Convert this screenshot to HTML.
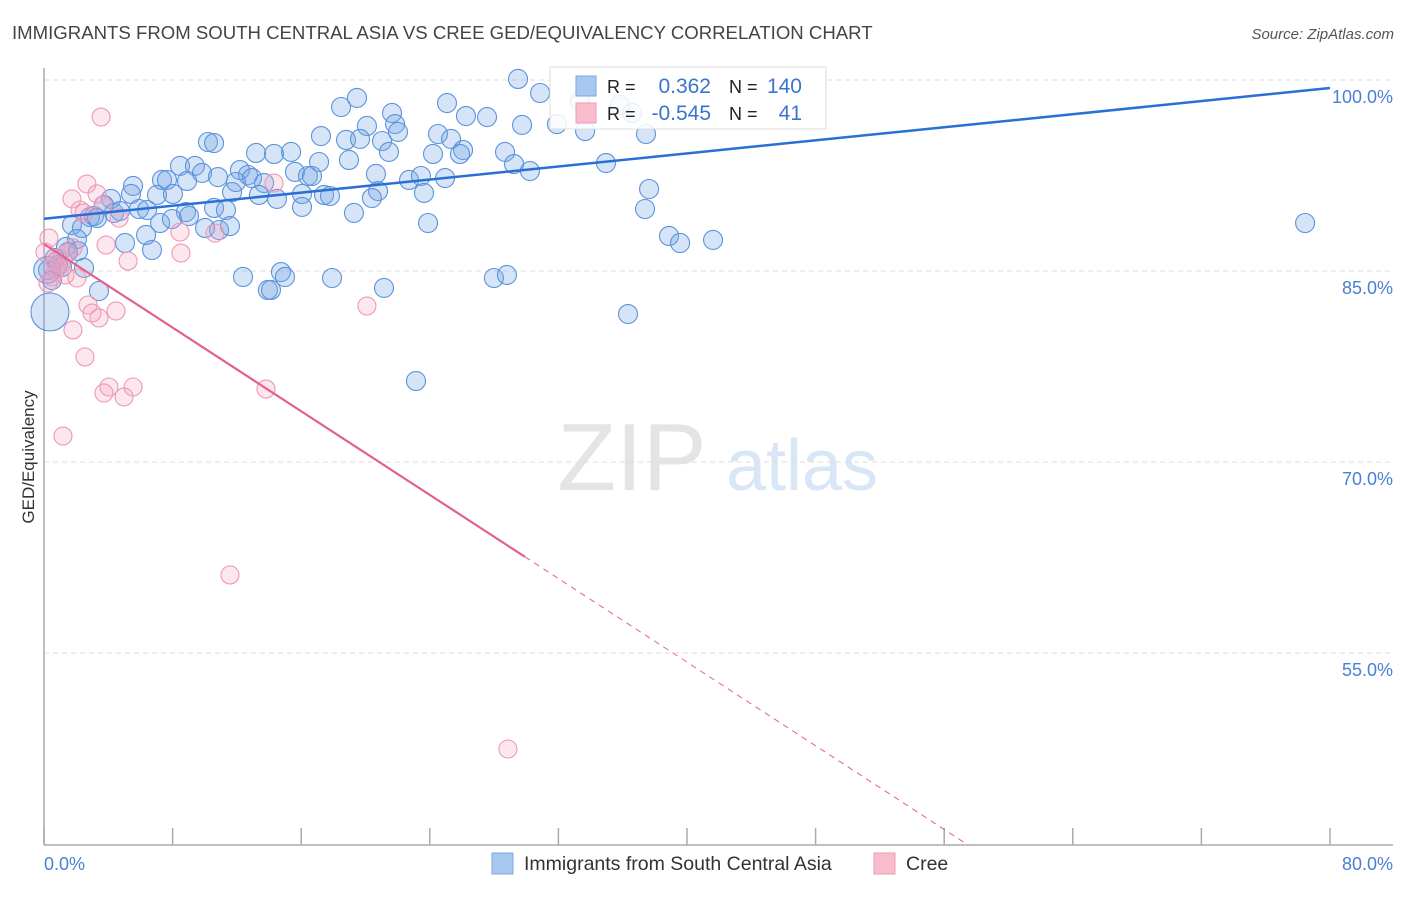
<!DOCTYPE html>
<html><head><meta charset="utf-8"><style>
body{margin:0;background:#fff;font-family:"Liberation Sans",sans-serif;}
svg text{font-family:"Liberation Sans",sans-serif;}
</style></head><body>
<svg id="chart" width="1406" height="892" xmlns="http://www.w3.org/2000/svg">
<text x="12" y="39" font-size="18.6" fill="#444">IMMIGRANTS FROM SOUTH CENTRAL ASIA VS CREE GED/EQUIVALENCY CORRELATION CHART</text>
<text x="1394" y="39" font-size="15" fill="#555" font-style="italic" text-anchor="end">Source: ZipAtlas.com</text>
<g>
<text x="632" y="490" font-size="96" fill="#e4e4e4" font-family="Liberation Serif" text-anchor="middle">ZIP</text>
<text x="802" y="490" font-size="72" fill="#d8e6f6" text-anchor="middle">atlas</text>
</g>
<g id="grid"></g>
<g id="axes"></g>
<g id="pts"></g>
<g id="lines"></g>
<text transform="translate(34,457) rotate(-90)" font-size="17" fill="#333" text-anchor="middle">GED/Equivalency</text>
<text x="44" y="870" font-size="18" fill="#4a7fd4">0.0%</text>
<text x="1393" y="870" font-size="18" fill="#4a7fd4" text-anchor="end">80.0%</text>
<g>
<rect x="550" y="67" width="276" height="62" fill="#fff" fill-opacity="0.85" stroke="#ddd"/>
<rect x="576" y="76" width="20" height="20" fill="#a9c8f0" stroke="#7aa7e0"/>
<rect x="576" y="103" width="20" height="20" fill="#f8bccd" stroke="#ee9ab3"/>
<text x="607" y="93" font-size="18" fill="#222">R = </text>
<text x="711" y="93" font-size="21" fill="#3b74d0" text-anchor="end">0.362</text>
<text x="729" y="93" font-size="18" fill="#222">N = </text>
<text x="802" y="93" font-size="21" fill="#3b74d0" text-anchor="end">140</text>
<text x="607" y="120" font-size="18" fill="#222">R = </text>
<text x="711" y="120" font-size="21" fill="#3b74d0" text-anchor="end">-0.545</text>
<text x="729" y="120" font-size="18" fill="#222">N = </text>
<text x="802" y="120" font-size="21" fill="#3b74d0" text-anchor="end">41</text>
</g>
<g>
<rect x="492" y="853" width="21" height="21" fill="#a9c8f0" stroke="#7aa7e0"/>
<text x="524" y="870" font-size="19.5" fill="#333">Immigrants from South Central Asia</text>
<rect x="874" y="853" width="21" height="21" fill="#f8bccd" stroke="#ee9ab3"/>
<text x="906" y="870" font-size="19.5" fill="#333">Cree</text>
</g>
</svg>
<script>
const yTicks=[100,85,70,55];
const yTickLabels=["100.0%","85.0%","70.0%","55.0%"];
const xTicks=[0,8,16,24,32,40,48,56,64,72,80];
const blueX=[29.49,30.86,19.47,18.48,25.07,21.65,27.56,26.25,29.74,31.91,33.34,35.83,36.58,33.66,37.45,21.84,20.09,22.02,17.23,18.79,19.66,21.03,24.51,25.32,10.20,10.58,13.19,14.31,15.37,21.46,26.07,24.20,25.88,28.68,29.24,30.23,34.96,17.11,18.97,8.46,9.39,7.34,7.65,8.90,9.83,10.82,12.19,12.69,12.94,13.69,15.61,16.42,16.67,20.65,22.71,23.45,24.95,5.54,5.41,7.03,8.02,11.70,11.94,13.37,14.49,16.05,17.42,17.79,20.78,20.40,23.64,37.64,4.17,3.73,4.35,4.73,5.91,6.41,8.83,9.02,10.58,11.32,16.05,19.28,2.86,3.11,3.30,1.74,2.36,7.22,7.96,10.02,10.89,11.57,23.89,37.39,2.05,1.37,1.49,2.12,5.04,6.35,6.72,38.88,39.57,41.62,78.45,0.68,0.87,1.12,0.25,0.50,2.49,12.38,14.74,14.99,17.92,27.99,28.80,13.93,14.12,21.15,3.42,36.33,23.14,0.37,0.19];
const blueY=[100.08,98.98,98.59,97.88,98.19,97.41,97.09,97.17,96.47,96.54,98.35,98.04,97.41,95.99,95.76,96.54,96.39,95.92,95.60,95.29,95.37,95.21,95.76,95.37,95.13,95.05,94.27,94.19,94.35,94.35,94.50,94.19,94.19,94.35,93.40,92.85,93.48,93.56,93.72,93.25,93.25,92.15,92.15,92.07,92.70,92.38,92.93,92.54,92.30,91.91,92.78,92.46,92.46,92.62,92.15,92.46,92.30,91.68,91.05,90.97,91.05,91.20,91.99,90.97,90.66,91.05,90.97,90.89,91.28,90.73,91.13,91.44,90.66,90.18,89.56,89.71,89.87,89.79,89.63,89.32,89.95,89.79,90.03,89.56,89.24,89.32,89.16,88.61,88.38,88.77,89.08,88.38,88.22,88.53,88.77,89.87,87.51,86.89,86.49,86.57,87.20,87.83,86.65,87.75,87.20,87.44,88.77,86.02,85.47,85.31,85.08,84.29,85.24,84.53,84.92,84.53,84.45,84.45,84.69,83.51,83.51,83.67,83.43,81.62,76.36,81.78,85.08];
const blueSize=blueX.map((v,i)=>i===blueX.length-2?2.0:(i===blueX.length-1?1.4:1));
const pinkX=[3.55,1.74,2.67,3.30,2.24,2.49,3.67,4.67,0.31,0.06,0.93,1.43,1.80,0.75,0.50,1.31,2.05,8.46,8.52,10.64,5.23,3.86,14.31,2.74,2.99,3.42,4.48,1.80,2.55,4.04,3.73,5.54,4.98,1.18,13.81,11.57,20.09,28.86,0.68,1.06,0.25];
const pinkY=[97.09,90.66,91.83,91.05,89.79,89.56,90.18,89.16,87.59,86.49,86.02,86.41,86.81,85.08,84.53,84.69,84.45,88.06,86.41,87.98,85.79,87.04,91.91,82.33,81.70,81.31,81.86,80.37,78.25,75.89,75.42,75.89,75.11,72.04,75.73,61.13,82.25,47.46,85.71,85.47,84.06];
const blueTrend=[89.1,99.37];
const pinkTrend=[87.12,-0.821];
const pinkSolidEnd=29.92;

const X0=44,X1=1330,Y100=80,Y85=271;
const xs=v=>X0+(v/80)*(X1-X0);
const ys=v=>Y100+(100-v)*(Y85-Y100)/15;
const yMin=100-(845-Y100)*15/(Y85-Y100);
const NS="http://www.w3.org/2000/svg";
function mk(t,a,p){const e=document.createElementNS(NS,t);for(const k in a)e.setAttribute(k,a[k]);p.appendChild(e);return e;}
const grid=document.getElementById('grid'),axes=document.getElementById('axes'),pts=document.getElementById('pts'),lines=document.getElementById('lines');
yTicks.forEach((t,i)=>{
 const l=mk('line',{x1:X0,x2:1393,y1:ys(t),y2:ys(t),stroke:'#ddd','stroke-dasharray':'5,4'},grid);
 
 
 const tx=mk('text',{x:1393,y:ys(t)+23,'font-size':18,fill:'#4a7fd4','text-anchor':'end'},grid);
 tx.textContent=yTickLabels[i];
 
 
});
const ya=mk('line',{x1:X0,x2:X0,y1:68,y2:845,stroke:'#aaa','stroke-width':1.5},axes);


const xa=mk('line',{x1:X0,x2:1393,y1:845,y2:845,stroke:'#aaa','stroke-width':1.5},axes);


xTicks.forEach(t=>{
 const l=mk('line',{x1:xs(t),x2:xs(t),y1:828,y2:845,stroke:'#aaa','stroke-width':1.5},axes);
 
 
});
blueX.forEach((x,i)=>{
 const c=mk('circle',{cx:xs(x),cy:ys(blueY[i]),r:9.5*blueSize[i],fill:'rgba(120,165,230,0.3)',stroke:'#5b93dc','stroke-width':1.1},pts);
 
 
});
pinkX.forEach((x,i)=>{
 const c=mk('circle',{cx:xs(x),cy:ys(pinkY[i]),r:9,fill:'rgba(245,160,190,0.25)',stroke:'#ee98b5','stroke-width':1.1},pts);
 
 
});
const bl=mk('line',{x1:xs(0),y1:ys(blueTrend[0]),x2:xs(80),y2:ys(blueTrend[1]),stroke:'#2a6fd6','stroke-width':2.5},lines);


const py=x=>pinkTrend[0]+pinkTrend[1]*x;
const pl=mk('line',{x1:xs(0),y1:ys(py(0)),x2:xs(pinkSolidEnd),y2:ys(py(pinkSolidEnd)),stroke:'#e4608f','stroke-width':2.2},lines);


const xEnd=(yMin-pinkTrend[0])/pinkTrend[1];
const pd=mk('line',{x1:xs(pinkSolidEnd),y1:ys(py(pinkSolidEnd)),x2:xs(xEnd),y2:ys(py(xEnd)),stroke:'#e4608f','stroke-width':1,'stroke-dasharray':'6,5'},lines);


</script>
</body></html>
